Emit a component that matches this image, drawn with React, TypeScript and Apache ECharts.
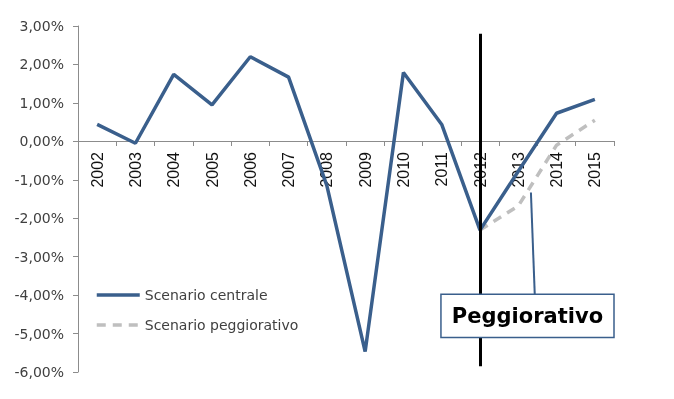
import React, { useEffect, useRef } from "react";
import * as echarts from "echarts";

const years = ["2002", "2003", "2004", "2005", "2006", "2007", "2008", "2009", "2010", "2011", "2012", "2013", "2014", "2015"];
const centrale = [0.44, -0.05, 1.74, 0.95, 2.2, 1.67, -1.15, -5.47, 1.79, 0.44, -2.31, -0.78, 0.73, 1.09];
const peggiorativo = [null, null, null, null, null, null, null, null, null, null, -2.31, -1.68, -0.1, 0.55];
const yTicks = { min: -6, max: 3, interval: 1 };
const calloutText = "Peggiorativo";

export default function App() {
  const ref = useRef<HTMLDivElement>(null);
  useEffect(() => {
    if (!ref.current) return;
    const chart = echarts.init(ref.current, null, { renderer: "svg" });
    const blue = "#3a5f8c";
    chart.setOption({
      animation: false,
      grid: { left: 78, right: 60, top: 26, bottom: 27, containLabel: false, outerBoundsMode: "none" },
      legend: {
        orient: "vertical",
        left: 95,
        top: 288,
        padding: 0,
        itemWidth: 43,
        itemHeight: 14,
        itemGap: 16,
        data: ["Scenario centrale", "Scenario peggiorativo"],
        itemStyle: { opacity: 0 },
        lineStyle: { width: 3.5 },
        textStyle: { fontFamily: "DejaVu Sans", fontSize: 14, color: "#404040" },
      },
      xAxis: [
        {
          type: "category",
          data: years,
          boundaryGap: true,
          position: "bottom",
          offset: -231,
          axisLine: { onZero: false, lineStyle: { color: "#8c8c8c", width: 1 } },
          axisTick: { show: true, length: 5, alignWithLabel: false, lineStyle: { color: "#8c8c8c" } },
          axisLabel: { rotate: 90, margin: 11, fontFamily: "Liberation Sans", fontSize: 16, color: "#111", interval: 0 },
          splitLine: { show: false },
        },
        {
          type: "value",
          min: -0.5,
          max: 13.5,
          show: false,
          splitLine: { show: false },
        },
      ],
      yAxis: {
        type: "value",
        min: yTicks.min,
        max: yTicks.max,
        interval: yTicks.interval,
        position: "left",
        axisLine: { show: true, onZero: false, lineStyle: { color: "#8c8c8c", width: 1 } },
        axisTick: { show: true, length: 5, lineStyle: { color: "#8c8c8c" } },
        axisLabel: {
          margin: 14,
          fontFamily: "DejaVu Sans",
          fontSize: 14,
          color: "#404040",
          formatter: (v: number) => v.toFixed(2).replace(".", ",") + "%",
        },
        splitLine: { show: false },
      },
      series: [
        {
          name: "Scenario peggiorativo",
          type: "line",
          data: peggiorativo,
          symbol: "none",
          connectNulls: false,
          lineStyle: { color: "#bfbfbf", width: 3.5, type: [9, 7] },
          itemStyle: { color: "#bfbfbf" },
        },
        {
          name: "Scenario centrale",
          type: "line",
          data: centrale,
          symbol: "none",
          lineStyle: { color: blue, width: 3.5 },
          itemStyle: { color: blue },
          markLine: {
            silent: true,
            symbol: "none",
            label: { show: false },
            data: [
              [
                { coord: [10, 2.8], lineStyle: { color: "#000", width: 3, type: "solid" } },
                { coord: [10, -5.85] },
              ],
            ],
          },
        },
        {
          name: "callout",
          type: "line",
          xAxisIndex: 1,
          data: [],
          symbol: "none",
          clip: false,
          markLine: {
            silent: true,
            symbol: "none",
            label: { show: false },
            data: [
              [
                { coord: [11.33, -1.33], lineStyle: { color: blue, width: 2, type: "solid" } },
                { coord: [11.43, -3.98] },
              ],
            ],
          },
          markArea: {
            silent: true,
            z: 10,
            itemStyle: { color: "#ffffff", borderColor: blue, borderWidth: 1.5 },
            label: {
              show: true,
              position: "inside",
              formatter: calloutText,
              fontFamily: "DejaVu Sans",
              fontWeight: "bold",
              fontSize: 21,
              color: "#000",
            },
            data: [[{ coord: [8.98, -3.98] }, { coord: [13.59, -5.1] }]],
          },
        },
      ],
    });
    return () => chart.dispose();
  }, []);
  return <div ref={ref} style={{ position: "fixed", left: 0, top: 0, width: 674, height: 399 }} />;
}
